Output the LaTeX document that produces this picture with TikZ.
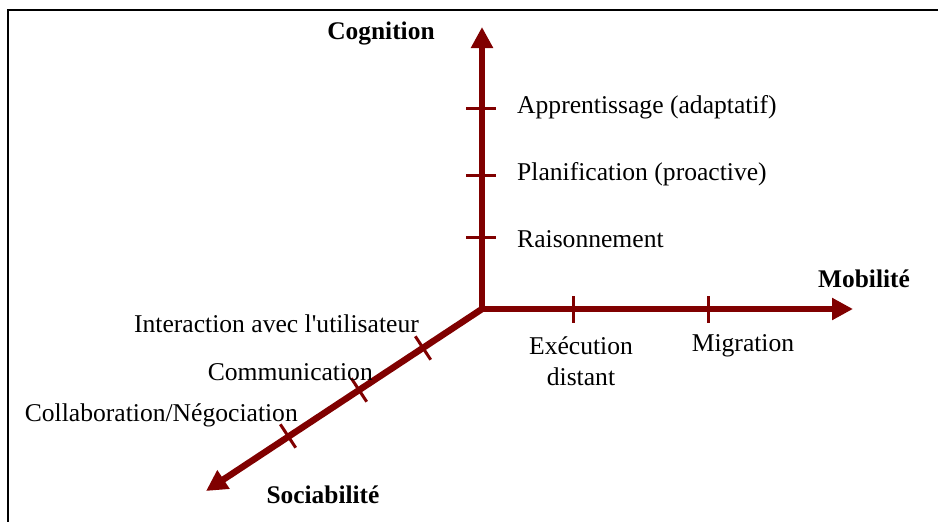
\documentclass[tikz,border=0pt]{standalone}
\usepackage{fontspec}
\setmainfont{Liberation Serif}
\usetikzlibrary{arrows.meta}
\definecolor{axisred}{HTML}{800000}
\tikzset{
  axis/.style={draw=axisred, line width=6.5pt, -{Triangle[length=21pt,width=21pt]}},
  tickmark/.style={draw=axisred, line width=3pt},
  lbl/.style={inner sep=0pt, font=\fontsize{25.6}{31}\selectfont},
  title/.style={inner sep=0pt, font=\fontsize{25.4}{31}\selectfont\bfseries},
  frame/.style={draw=black, line width=2.4pt}
}
\begin{document}
\begin{tikzpicture}[x=1pt,y=-1pt]
\useasboundingbox (0,0) rectangle (938,522);
% frame
\coordinate (fl) at (8,522);
\coordinate (fc) at (8,10);
\coordinate (fr) at (940,10);
\draw[frame] (fl) -- (fc) -- (fr);
% axes
\coordinate (O) at (482,309);
\coordinate (cogTip) at (482,27);
\coordinate (mobTip) at (853,309);
\coordinate (socTip) at (206,491);
\draw[axis] (O) -- (cogTip);
\draw[axis] (O) -- (mobTip);
\draw[axis] (O) -- (socTip);
% vertical ticks
\coordinate (c1) at (481,108);
\coordinate (c2) at (481,175);
\coordinate (c3) at (481,237);
\foreach \c in {c1,c2,c3} \draw[tickmark] (\c) ++(-15,0) -- ++(30,0);
% horizontal ticks
\coordinate (m1) at (573,309);
\coordinate (m2) at (708,309);
\foreach \c in {m1,m2} \draw[tickmark] (\c) ++(0,-13) -- ++(0,27);
% diagonal ticks
\coordinate (s1) at (423,348);
\coordinate (s2) at (359,390);
\coordinate (s3) at (288,436);
\foreach \c in {s1,s2,s3} \draw[tickmark] (\c) ++(-7.7,-11.7) -- ++(15.4,23.4);
% titles
\node[title] (cog) at (381,33) {Cognition};
\node[title] (mob) at (864,279) {Mobilité};
\node[title] (soc) at (323,495) {Sociabilité};
% cognition labels
\node[lbl, anchor=west] (l1) at (517,107) {Apprentissage (adaptatif)};
\node[lbl, anchor=west] (l2) at (517,174) {Planification (proactive)};
\node[lbl, anchor=west] (l3) at (517,239) {Raisonnement};
% mobility labels
\node[lbl, align=center] (l4) at (581,361) {Exécution\\distant};
\node[lbl] (l5) at (743,346) {Migration};
% sociability labels
\node[lbl, anchor=east] (l6) at (419,324) {Interaction avec l\textquotesingle utilisateur};
\node[lbl, anchor=east] (l7) at (373,372) {Communication};
\node[lbl, anchor=east] (l8) at (298,415) {Collaboration/Négociation};
\end{tikzpicture}
\end{document}
